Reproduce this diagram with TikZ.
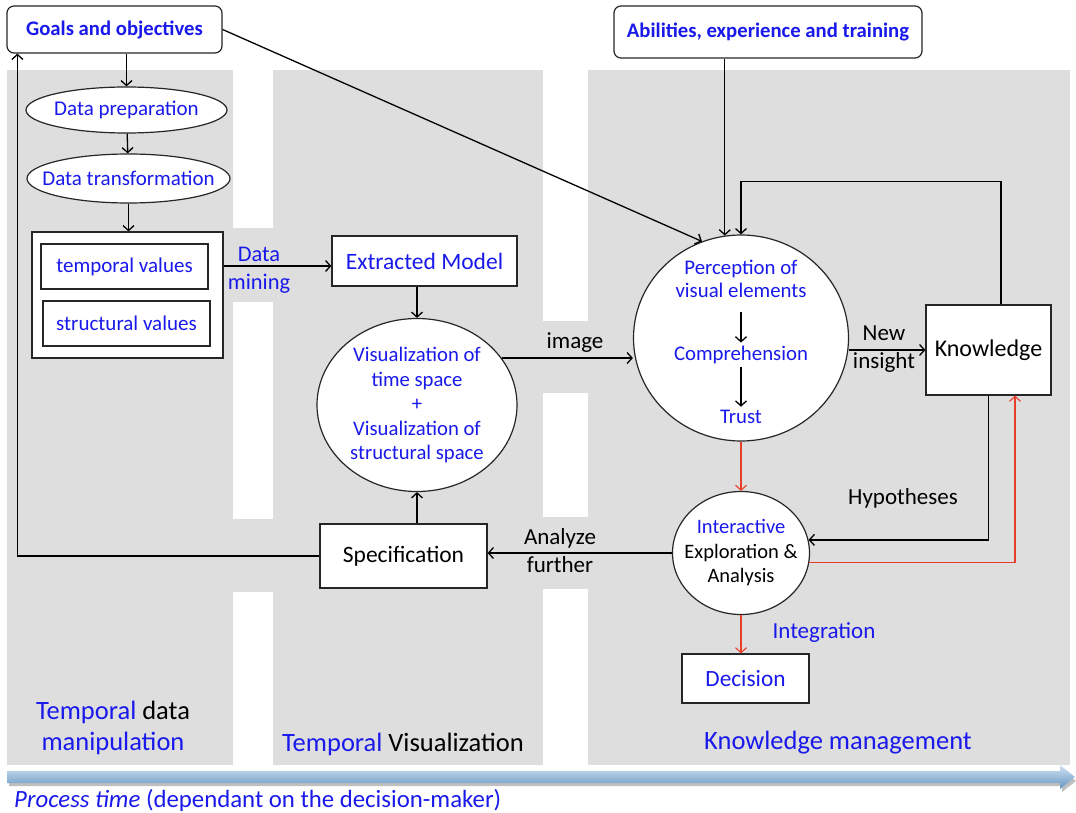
\documentclass[tikz,border=0pt]{standalone}
\usepackage{fontspec}
\setmainfont{Carlito}
\usepackage{xcolor}
\definecolor{txtblue}{RGB}{25,25,235}
\definecolor{flowred}{RGB}{232,62,40}
\definecolor{panelgray}{RGB}{222,222,222}
\definecolor{timeblue}{RGB}{120,175,225}
\usepackage{tikz}
\usetikzlibrary{shapes.geometric}
\usetikzlibrary{arrows.meta}

\begin{document}
\begin{tikzpicture}[x=1pt,y=-1pt,
  flow/.style={line width=1.3pt,-{Straight Barb[length=5pt,width=11pt]}},
  blk/.style={draw=black!85,line width=1.2pt,fill=white,inner sep=0pt,text=txtblue,font=\fontsize{21}{25}\selectfont},
  rblk/.style={blk,rounded corners=7pt,font=\bfseries\fontsize{20.7}{25}\selectfont},
  oval/.style={blk,ellipse},
  lbl/.style={inner sep=1pt,font=\fontsize{23}{28}\selectfont},
  panellbl/.style={inner sep=1pt,font=\fontsize{26.5}{31}\selectfont}]
\useasboundingbox (0,0) rectangle (1076,813);

% grey lanes with white gaps
\fill[panelgray] (7,70) rectangle (1070,765);
\fill[white] (233,70) rectangle (273,228);
\fill[white] (233,302) rectangle (273,519);
\fill[white] (233,592) rectangle (273,765);
\fill[white] (543,70) rectangle (588,321);
\fill[white] (543,393) rectangle (588,517);
\fill[white] (543,589) rectangle (588,765);

% time axis
\fill[black!25] (9,776) -- (1062,776) -- (1062,770) -- (1076,781) -- (1062,792) -- (1062,786) -- (9,786) -- cycle;
\shade[top color=timeblue!35,bottom color=timeblue!85!black] (7,771) -- (1060,771) -- (1060,765) -- (1075,777) -- (1060,789) -- (1060,783) -- (7,783) -- cycle;

\node[rblk,minimum width=215pt,minimum height=47pt] (goals) at (114.5,29.5) {Goals and objectives};
\node[rblk,minimum width=308pt,minimum height=52pt] (abil) at (768,32) {Abilities, experience and training};
\node[oval,minimum width=201pt,minimum height=46pt,inner xsep=-2pt,font=\fontsize{21}{25}\selectfont] (prep) at (126.5,110) {Data preparation};
\node[oval,minimum width=203pt,minimum height=49pt,inner xsep=-15pt,font=\fontsize{21}{25}\selectfont] (trans) at (128.5,178.5) {Data transformation};
\node[blk,minimum width=191pt,minimum height=126pt] (values) at (127.5,295) {};
\node[blk,minimum width=167pt,minimum height=45pt,font=\fontsize{21}{24}\selectfont] (tval) at (124.5,266.5) {temporal values};
\node[blk,minimum width=167pt,minimum height=45pt,font=\fontsize{21}{24}\selectfont] (sval) at (126.5,323.5) {structural values};
\node[blk,minimum width=185pt,minimum height=50pt,font=\fontsize{23.5}{28}\selectfont] (model) at (424.5,261) {Extracted Model};
\node[oval,minimum width=200pt,minimum height=173pt,align=center,font=\fontsize{20.7}{24.5}\selectfont] (vis) at (417,405) {Visualization of\\time space\\+\\Visualization of\\structural space};
\node[blk,text=black,minimum width=167pt,minimum height=64pt,font=\fontsize{23.5}{28}\selectfont] (spec) at (403.5,556) {Specification};
\node[oval,minimum width=215pt,minimum height=206pt] (perc) at (741,338) {};
\node[text=txtblue,align=center,font=\fontsize{20.8}{23.5}\selectfont] (percTxt) at (741,279) {Perception of\\visual elements};
\node[text=txtblue,font=\fontsize{20.8}{24}\selectfont] (comp) at (741,355) {Comprehension};
\node[text=txtblue,font=\fontsize{20.8}{24}\selectfont] (trust) at (741,417) {Trust};
\node[blk,text=black,minimum width=125pt,minimum height=90pt,font=\fontsize{24}{28}\selectfont] (know) at (988.5,350) {Knowledge};
\node[oval,text=black,minimum width=137pt,minimum height=123pt,inner xsep=-9pt,align=center,font=\fontsize{20.5}{24.5}\selectfont] (inter) at (741,553) {\textcolor{txtblue}{Interactive}\\Exploration \&\\Analysis};
\node[blk,minimum width=127pt,minimum height=49pt,font=\fontsize{23.3}{28}\selectfont] (dec) at (745.5,678.5) {Decision};

% labels
\node[lbl,text=txtblue,align=center,font=\fontsize{22.4}{28}\selectfont] (mining) at (259,270) {Data\\mining};
\node[lbl] (imglbl) at (575,343) {image};
\node[lbl,align=center] (insight) at (884,349) {New\\insight};
\node[lbl] (hyp) at (903,498) {Hypotheses};
\node[lbl,align=center] (further) at (560,551) {Analyze\\further};
\node[lbl,text=txtblue] (integ) at (824,633) {Integration};
\node[panellbl,align=center] (tdm) at (113,728) {\textcolor{txtblue}{Temporal} data\\\textcolor{txtblue}{manipulation}};
\node[panellbl] (tvis) at (403,744) {\textcolor{txtblue}{Temporal} Visualization};
\node[panellbl,text=txtblue] (kman) at (838,743) {Knowledge management};
\node[anchor=west,inner sep=0pt,text=txtblue,font=\fontsize{24.8}{28}\selectfont] (ptime) at (14,800) {\textit{Process time} (dependant on the decision-maker)};

% connectors
\coordinate (modelin) at ([yshift=-5pt]model.west);
\draw[flow] (goals.south -| prep.north) -- (prep.north);
\draw[flow] (prep) -- (trans);
\draw[flow] (trans.south) -- (trans.south |- values.north);
\draw[flow] (values.east |- modelin) -- (modelin);
\draw[flow] (vis.north |- model.south) -- (vis.north);
\draw[flow] (vis.south |- spec.north) -- (vis.south);
\draw[flow] (spec.west) -| ([xshift=11pt]goals.south west);
\draw[flow] (goals.east) -- (perc.112);
\draw[flow] (perc.99 |- abil.south) -- (perc.99);
\draw[flow] ([xshift=12.5pt]know.north) |- ([yshift=53pt]perc.north) -- (perc.north);
\draw[flow,shorten <=10pt] (percTxt.south) -- (comp.north);
\draw[flow] (comp) -- (trust);
\draw[flow] (vis.29) -- (vis.29 -| perc.west);
\draw[flow] (perc.east |- know.west) -- (know.west);
\draw[flow] (know.south) |- (inter.11);
\draw[flow,flowred,line width=1.1pt] (inter.-8) -| ([xshift=26.5pt]know.south);
\draw[flow,flowred,line width=1.1pt] (perc.south) -- (inter.north);
\draw[flow,flowred,line width=1.1pt] (inter.south) -- (inter.south |- dec.north);
\draw[flow] (inter.west) -- (inter.west -| spec.east);
\end{tikzpicture}
\end{document}
